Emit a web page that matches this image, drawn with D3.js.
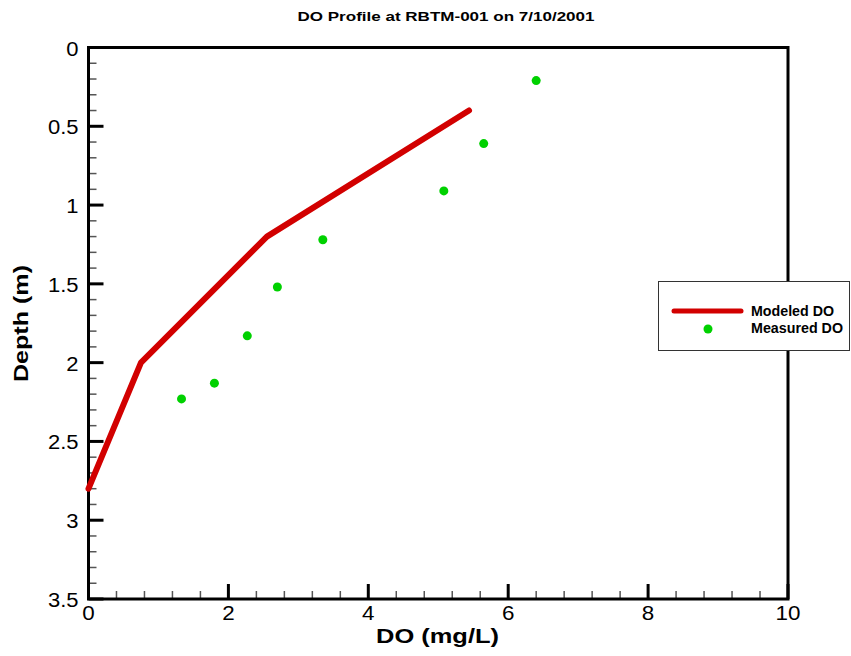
<!DOCTYPE html>
<html>
<head>
<meta charset="utf-8">
<script src="https://cdn.jsdelivr.net/npm/d3@7"></script>
<style>
  html, body { margin: 0; padding: 0; background: #fff; }
  svg { display: block; font-family: "Liberation Sans", Arial, sans-serif; }
</style>
</head>
<body>
<svg id="chart" width="851" height="656"></svg>
<script>
// Modeled dissolved oxygen profile (mg/L vs depth m)
const modeledDO    = [5.44, 2.55, 0.75, 0.0];
const modeledDepth = [0.40, 1.20, 2.00, 2.80];

// Measured dissolved oxygen profile
const measuredDO    = [6.40, 5.65, 5.08, 3.35, 2.70, 2.27, 1.80, 1.33];
const measuredDepth = [0.21, 0.61, 0.91, 1.22, 1.52, 1.83, 2.13, 2.23];

// Axis tick values
const xMajorTicks = [0, 2, 4, 6, 8, 10];
const xMinorTicks = d3.range(0, 10.0001, 0.4).filter(v => Math.abs(v / 2 - Math.round(v / 2)) > 1e-6);
const yMajorTicks = [0, 0.5, 1, 1.5, 2, 2.5, 3, 3.5];
const yMinorTicks = d3.range(0, 3.5001, 0.1).filter(v => Math.abs(v / 0.5 - Math.round(v / 0.5)) > 1e-6);

const legendLabels = ["Modeled DO", "Measured DO"];

(function () {
  const svg = d3.select("#chart");
  const pLeft = 88.5, pRight = 788, pTop = 47.5, pBottom = 599;

  const x = d3.scaleLinear().domain([0, 10]).range([pLeft, pRight]);
  const y = d3.scaleLinear().domain([0, 3.5]).range([pTop, pBottom]);

  const red = "#d20000", green = "#00d100";

  // widen a text element horizontally by factor k
  function stretch(sel, k) {
    sel.each(function () {
      const w = this.getComputedTextLength();
      d3.select(this).attr("textLength", w * k).attr("lengthAdjust", "spacingAndGlyphs");
    });
  }

  // Title
  svg.append("text")
    .attr("x", 446).attr("y", 21)
    .attr("text-anchor", "middle")
    .attr("font-size", 13).attr("font-weight", "bold")
    .text("DO Profile at RBTM-001 on 7/10/2001")
    .call(s => s.each(function () {
      d3.select(this).attr("textLength", 297).attr("lengthAdjust", "spacingAndGlyphs");
    }));

  // Minor ticks (inward)
  const g = svg.append("g");
  g.selectAll(".ym").data(yMinorTicks).join("line")
    .attr("x1", pLeft).attr("x2", pLeft + 8)
    .attr("y1", d => y(d)).attr("y2", d => y(d))
    .attr("stroke", "#555").attr("stroke-width", 1.5);
  g.selectAll(".xm").data(xMinorTicks).join("line")
    .attr("x1", d => x(d)).attr("x2", d => x(d))
    .attr("y1", pBottom).attr("y2", pBottom - 8)
    .attr("stroke", "#555").attr("stroke-width", 1.5);

  // Major ticks
  g.selectAll(".yM").data(yMajorTicks).join("line")
    .attr("x1", pLeft).attr("x2", pLeft + 15)
    .attr("y1", d => y(d)).attr("y2", d => y(d))
    .attr("stroke", "#000").attr("stroke-width", 3);
  g.selectAll(".xM").data(xMajorTicks).join("line")
    .attr("x1", d => x(d)).attr("x2", d => x(d))
    .attr("y1", pBottom).attr("y2", pBottom - 15)
    .attr("stroke", "#000").attr("stroke-width", 3);

  // Frame
  svg.append("rect")
    .attr("x", pLeft).attr("y", pTop)
    .attr("width", pRight - pLeft).attr("height", pBottom - pTop)
    .attr("fill", "none").attr("stroke", "#000").attr("stroke-width", 3);

  // Tick labels
  svg.selectAll(".yl").data(yMajorTicks).join("text")
    .attr("x", pLeft - 10).attr("y", d => y(d) + 8)
    .attr("text-anchor", "end").attr("font-size", 20)
    .text(d => d3.format("~g")(d))
    .call(stretch, 1.1);
  svg.selectAll(".xl").data(xMajorTicks).join("text")
    .attr("x", d => x(d)).attr("y", pBottom + 21)
    .attr("text-anchor", "middle").attr("font-size", 20)
    .text(d => d)
    .call(stretch, 1.12);

  // Axis titles
  svg.append("text")
    .attr("x", 437.5).attr("y", 643)
    .attr("text-anchor", "middle")
    .attr("font-size", 21).attr("font-weight", "bold")
    .text("DO (mg/L)")
    .attr("textLength", 123).attr("lengthAdjust", "spacingAndGlyphs");
  svg.append("text")
    .attr("transform", "translate(28,323.5) rotate(-90)")
    .attr("text-anchor", "middle")
    .attr("font-size", 21).attr("font-weight", "bold")
    .text("Depth (m)")
    .attr("textLength", 117).attr("lengthAdjust", "spacingAndGlyphs");

  // Modeled line
  const lineData = modeledDO.map((v, i) => [v, modeledDepth[i]]);
  svg.append("path")
    .datum(lineData)
    .attr("d", d3.line().x(d => x(d[0])).y(d => y(d[1])))
    .attr("fill", "none").attr("stroke", red)
    .attr("stroke-width", 6).attr("stroke-linejoin", "round").attr("stroke-linecap", "round");

  // Measured points
  svg.selectAll(".pt").data(measuredDO.map((v, i) => [v, measuredDepth[i]])).join("circle")
    .attr("cx", d => x(d[0])).attr("cy", d => y(d[1]))
    .attr("r", 4.5).attr("fill", green);

  // Legend
  const lg = svg.append("g");
  lg.append("rect")
    .attr("x", 658.5).attr("y", 281.5).attr("width", 191).attr("height", 69)
    .attr("fill", "#fff").attr("stroke", "#333").attr("stroke-width", 1);
  lg.append("line")
    .attr("x1", 674).attr("x2", 741).attr("y1", 311).attr("y2", 311)
    .attr("stroke", red).attr("stroke-width", 5).attr("stroke-linecap", "round");
  lg.append("circle").attr("cx", 708).attr("cy", 329).attr("r", 4.5).attr("fill", green);
  lg.selectAll(".lt").data(legendLabels).join("text")
    .attr("x", 751).attr("y", (d, i) => 316 + i * 17)
    .attr("font-size", 14).attr("font-weight", "bold")
    .text(d => d)
    .attr("textLength", (d, i) => [83, 92][i]).attr("lengthAdjust", "spacingAndGlyphs");
})();
</script>
</body>
</html>
